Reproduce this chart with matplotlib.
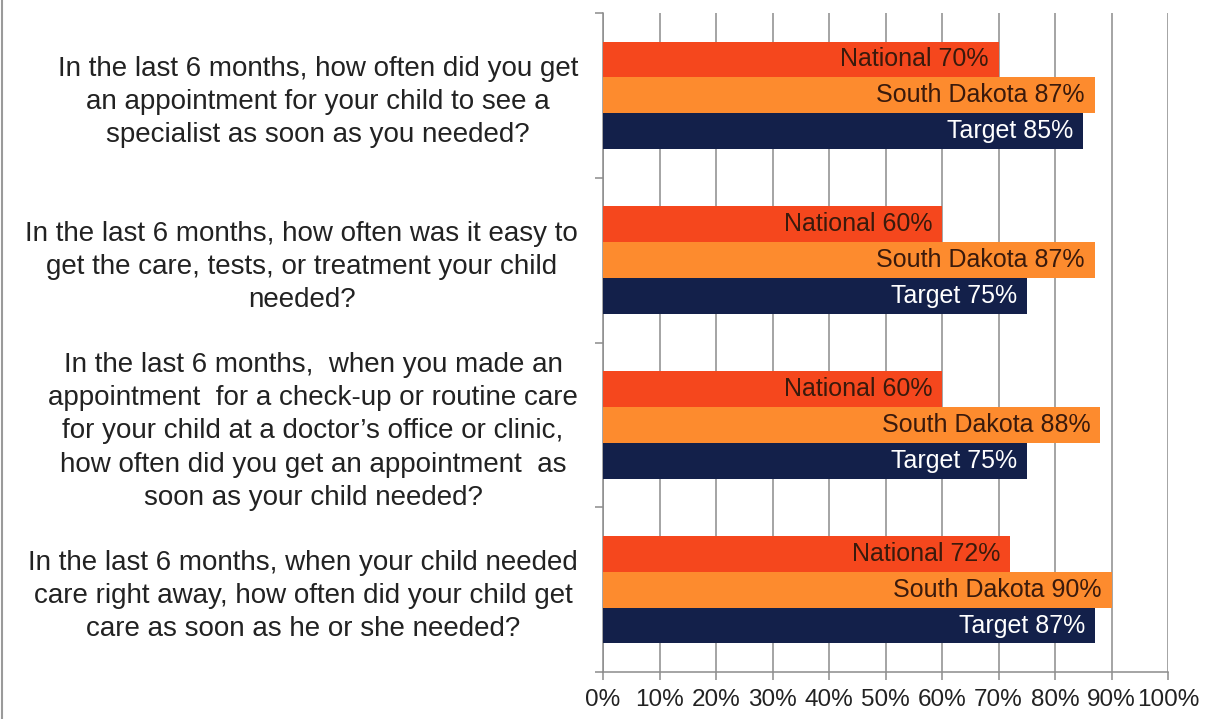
import matplotlib.pyplot as plt
import matplotlib.ticker as mticker
import numpy as np

plt.rcParams['font.family'] = ['Liberation Sans', 'DejaVu Sans']

QUESTIONS = [
    'In the last 6 months, how often did you get\nan appointment for your child to see a\nspecialist as soon as you needed?',
    'In the last 6 months, how often was it easy to\nget the care, tests, or treatment your child\nneeded?',
    'In the last 6 months,  when you made an\nappointment  for a check-up or routine care\nfor your child at a doctor\u2019s office or clinic,\nhow often did you get an appointment  as\nsoon as your child needed?',
    'In the last 6 months, when your child needed\ncare right away, how often did your child get\ncare as soon as he or she needed?',
]
NATIONAL     = [70, 60, 60, 72]
SOUTH_DAKOTA = [87, 87, 88, 90]
TARGET       = [85, 75, 75, 87]

SERIES = [
    ('National', NATIONAL, '#F5471D', '#3a1a0c'),
    ('South Dakota', SOUTH_DAKOTA, '#FD8B2E', '#3a1a0c'),
    ('Target', TARGET, '#13204A', 'white'),
]

fig = plt.figure(figsize=(12.25, 7.19), dpi=100)
ax = fig.add_axes([603 / 1225, 47 / 719, 565 / 1225, 659 / 719])

y = np.arange(len(QUESTIONS))
h = 0.218
for k, (name, vals, color, tcolor) in enumerate(SERIES):
    pos = y + (k - 1) * h
    ax.barh(pos, vals, height=h, color=color, zorder=3)
    for p, v in zip(pos, vals):
        ax.annotate(f'{name} {v}%', xy=(v, p), xytext=(-7, 0),
                    textcoords='offset points', ha='right', va='center',
                    fontsize=18, color=tcolor, zorder=4)

ax.set_xlim(0, 100)
ax.set_ylim(len(QUESTIONS) - 0.5, -0.5)
ax.xaxis.set_major_locator(mticker.MultipleLocator(10))
ax.xaxis.set_major_formatter(mticker.FuncFormatter(lambda v, _: f'{v:.0f}%'))
ax.grid(axis='x', color='#8c8c8c', linewidth=1.1, zorder=0)

ax.set_yticks(y)
ax.set_yticklabels(QUESTIONS, fontsize=20, color='#222222',
                   multialignment='center', linespacing=1.36)
ax.set_yticks(np.arange(len(QUESTIONS) + 1) - 0.5, minor=True)
ax.tick_params(axis='y', which='major', length=0, pad=18)
ax.tick_params(axis='y', which='minor', length=6, color='#8c8c8c', width=1.1)
ax.tick_params(axis='x', length=6, color='#8c8c8c', width=1.1,
               labelsize=17.5, labelcolor='#222222', pad=6)

for s in ['top', 'right']:
    ax.spines[s].set_visible(False)
for s in ['left', 'bottom']:
    ax.spines[s].set_color('#8c8c8c')
    ax.spines[s].set_linewidth(1.1)

fig.add_artist(plt.Line2D([2 / 1225, 2 / 1225], [0, 1], color='#9a9a9a',
                          linewidth=1.5, transform=fig.transFigure))

plt.savefig('out.png', dpi=100)
